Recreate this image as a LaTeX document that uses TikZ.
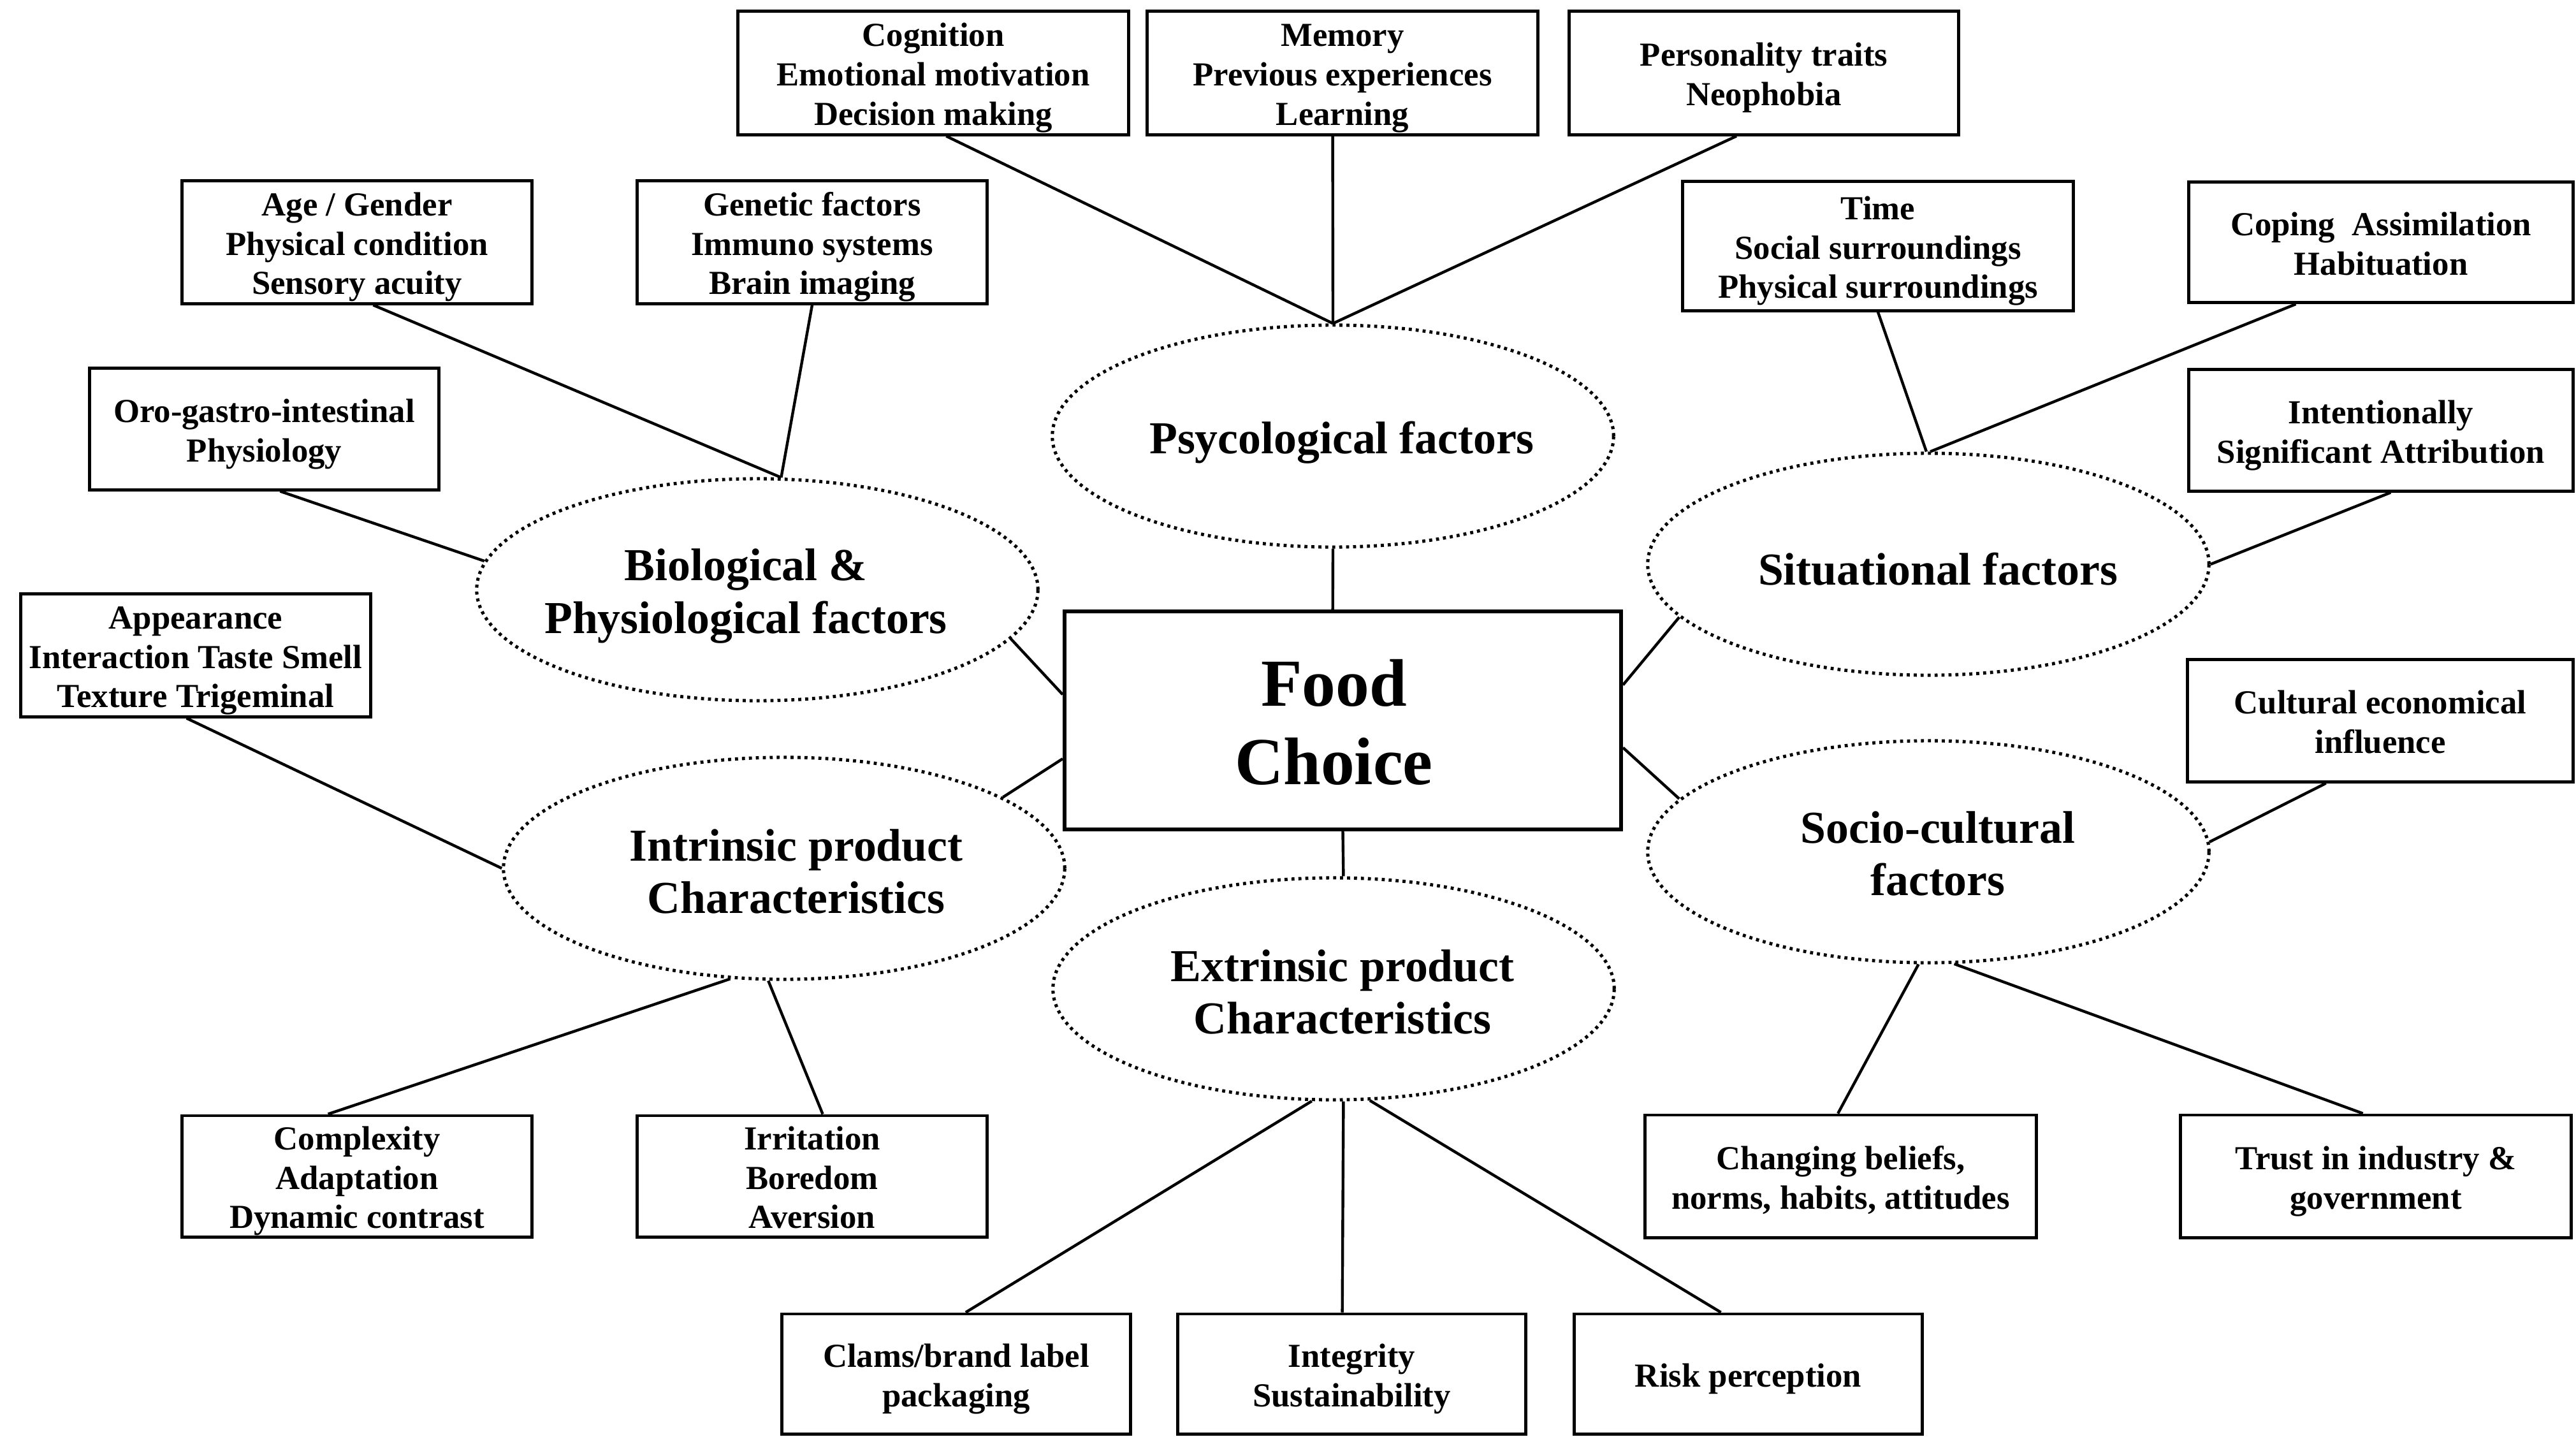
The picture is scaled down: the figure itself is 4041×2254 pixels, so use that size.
\documentclass[tikz,border=0pt]{standalone}
\usepackage{fontspec}
\setmainfont{Liberation Serif}
\usetikzlibrary{shapes.geometric,calc}

% fixed first-line height for the text in the boxes
\newcommand\boxtop{\rule{0pt}{15pt}}

\begin{document}
\begin{tikzpicture}[x=0.01cm,y=-0.01cm,
  fbox/.style={draw, line width=1.4pt, align=center, inner xsep=2pt, inner ysep=0pt,
    minimum height=1.91cm, font=\bfseries\fontsize{15}{17.6}\selectfont,
    execute at end node={\rule[-3.6pt]{0pt}{3.6pt}}},
  fac/.style={ellipse, draw, line width=1.45pt, dash pattern=on 1.35pt off 1.75pt,
    inner sep=0pt, minimum width=8.8cm, minimum height=3.48cm},
  factext/.style={align=center, inner sep=0pt,
    font=\bfseries\fontsize{20.4}{23.5}\selectfont},
  hub/.style={draw, line width=1.6pt, minimum width=8.73cm, minimum height=3.42cm},
  hubtext/.style={align=center, inner sep=0pt,
    font=\bfseries\fontsize{30}{35.2}\selectfont},
  link/.style={line width=1.25pt}]
\useasboundingbox (0,0) rectangle (4041,2254);

% central node
\node[hub] (food) at (2106.5,1130) {};
\node[hubtext] (foodT) at ($(food.center)+(-14,3)$) {Food\\Choice};

% factor groups
\node[fac] (psy) at (2091,684)  {};
\node[fac] (bio) at (1188,925)  {};
\node[fac] (sit) at (3025,885)  {};
\node[fac] (int) at (1230,1362) {};
\node[fac] (ext) at (2092,1551) {};
\node[fac] (soc) at (3025,1336) {};

\node[factext] (psyT) at ($(psy.center)+(14,10)$) {Psycological factors};
\node[factext] (bioT) at ($(bio.center)+(-18,10)$) {Biological \&\\Physiological factors};
\node[factext] (sitT) at ($(sit.center)+(15,8)$)  {Situational factors};
\node[factext] (intT) at ($(int.center)+(19,5)$)  {Intrinsic product\\Characteristics};
\node[factext] (extT) at ($(ext.center)+(14,5)$)  {Extrinsic product\\Characteristics};
\node[factext] (socT) at ($(soc.center)+(15,3)$)  {Socio-cultural\\factors};

% detail boxes
\node[fbox, minimum width=6.12cm, minimum height=1.93cm] (cog) at (1464,114.5) {\boxtop Cognition\\Emotional motivation\\Decision making};
\node[fbox, minimum width=6.12cm, minimum height=1.93cm] (mem) at (2106,114.5) {\boxtop Memory\\Previous experiences\\Learning};
\node[fbox, minimum width=6.10cm, minimum height=1.93cm] (per) at (2767,114.5) {\boxtop Personality traits\\Neophobia};
\node[fbox, minimum width=5.48cm, minimum height=1.92cm] (age) at (560,380) {\boxtop Age / Gender\\Physical condition\\Sensory acuity};
\node[fbox, minimum width=5.48cm, minimum height=1.92cm] (gen) at (1274,380) {\boxtop Genetic factors\\Immuno systems\\Brain imaging};
\node[fbox, minimum width=6.12cm, minimum height=2.02cm] (tim) at (2946,386) {\boxtop Time\\Social surroundings\\Physical surroundings};
\node[fbox, minimum width=6.02cm, minimum height=1.89cm] (cop) at (3735,380) {\boxtop Coping\ \ Assimilation\\Habituation};
\node[fbox, minimum width=5.47cm, minimum height=1.90cm] (oro) at (414.5,673) {\boxtop Oro-gastro-intestinal\\Physiology};
\node[fbox, minimum width=6.02cm, minimum height=1.90cm] (ten) at (3735,675) {\boxtop Intentionally\\Significant Attribution};
\node[fbox, minimum width=5.48cm, minimum height=1.92cm] (app) at (307,1028) {\boxtop Appearance\\Interaction Taste Smell\\Texture Trigeminal};
\node[fbox, minimum width=6.04cm, minimum height=1.91cm] (cul) at (3734,1130.5) {\boxtop Cultural economical\\influence};
\node[fbox, minimum width=5.48cm, minimum height=1.90cm] (cpx) at (560,1845) {\boxtop Complexity\\Adaptation\\Dynamic contrast};
\node[fbox, minimum width=5.48cm, minimum height=1.90cm] (irr) at (1274,1845) {\boxtop Irritation\\Boredom\\Aversion};
\node[fbox, minimum width=6.13cm, minimum height=1.92cm] (chg) at (2887.5,1845) {\boxtop Changing beliefs,\\norms, habits, attitudes};
\node[fbox, minimum width=6.12cm, minimum height=1.92cm] (tru) at (3727,1845) {\boxtop Trust in industry \&\\government};
\node[fbox, minimum width=5.46cm, minimum height=1.88cm] (clm) at (1500,2155) {\boxtop Clams/brand label\\packaging};
\node[fbox, minimum width=5.45cm, minimum height=1.88cm] (itg) at (2120.5,2155) {\boxtop Integrity\\Sustainability};
\node[fbox, minimum width=5.45cm, minimum height=1.88cm] (rsk) at (2742.5,2155) {\boxtop Risk perception};

% links from the central node
\draw[link] (psy.south) -- ($(food.north west)!0.482!(food.north east)$);
\draw[link] ($(food.north west)!0.383!(food.south west)$) -- (bio.-11.3);
\draw[link] ($(food.north west)!0.673!(food.south west)$) -- (int.18.1);
\draw[link] ($(food.north east)!0.34!(food.south east)$) -- (sit.192.4);
\draw[link] ($(food.north east)!0.623!(food.south east)$) -- (soc.168.8);
\draw[link] ($(food.south west)!0.5!(food.south east)$) -- (ext.85);

% psychological
\draw[link] ($(cog.south west)!0.533!(cog.south east)$) -- (psy.north);
\draw[link] ($(mem.south west)!0.475!(mem.south east)$) -- (psy.north);
\draw[link] ($(per.south west)!0.43!(per.south east)$) -- (psy.north);

% biological
\draw[link] ($(age.south west)!0.546!(age.south east)$) -- (bio.78.7);
\draw[link] ($(gen.south west)!0.5!(gen.south east)$) -- (bio.78.7);
\draw[link] ($(oro.south west)!0.545!(oro.south east)$) -- (bio.174);

% intrinsic
\draw[link] ($(app.south west)!0.474!(app.south east)$) -- (int.180.6);
\draw[link] (int.244.2) -- ($(cpx.north west)!0.418!(cpx.north east)$);
\draw[link] (int.262.5) -- ($(irr.north west)!0.53!(irr.north east)$);

% situational
\draw[link] ($(tim.south west)!0.5!(tim.south east)$) -- (sit.91);
\draw[link] ($(cop.south west)!0.28!(cop.south east)$) -- (sit.89);
\draw[link] ($(ten.south west)!0.525!(ten.south east)$) -- (sit.east);

% socio-cultural
\draw[link] ($(cul.south west)!0.36!(cul.south east)$) -- (soc.2.5);
\draw[link] (soc.265.3) -- ($(chg.north west)!0.493!(chg.north east)$);
\draw[link] (soc.283) -- ($(tru.north west)!0.467!(tru.north east)$);

% extrinsic
\draw[link] (ext.259.5) -- ($(clm.north west)!0.527!(clm.north east)$);
\draw[link] (ext.275) -- ($(itg.north west)!0.473!(itg.north east)$);
\draw[link] (ext.288.9) -- ($(rsk.north west)!0.422!(rsk.north east)$);
\end{tikzpicture}
\end{document}
